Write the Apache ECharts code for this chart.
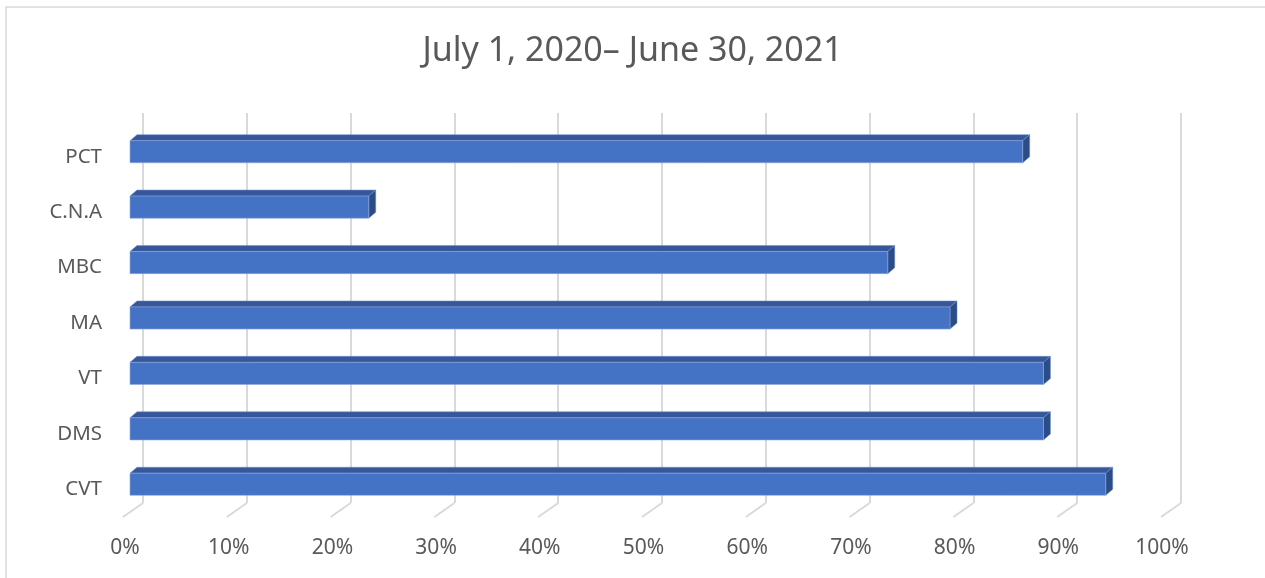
<!DOCTYPE html>
<html><head><meta charset="utf-8">
<script src="https://cdn.jsdelivr.net/npm/echarts@6/dist/echarts.min.js"></script>
<style>html,body{margin:0;padding:0;background:#fff}#c{width:1265px;height:578px}</style>
</head><body><div id="c"></div>
<script>
const titleText = 'July 1, 2020\u2013 June 30, 2021';
const categories = ['PCT', 'C.N.A', 'MBC', 'MA', 'VT', 'DMS', 'CVT'];
const values = [0.86, 0.23, 0.73, 0.79, 0.88, 0.88, 0.94];
const tickValues = [0, 0.1, 0.2, 0.3, 0.4, 0.5, 0.6, 0.7, 0.8, 0.9, 1.0];

const FONT = '"Noto Sans", sans-serif';
const TXT = '#595959';
const GRIDC = '#d9d9d9';

const chart = echarts.init(document.getElementById('c'), null, {renderer: 'canvas'});

function barItem(params, api) {
  const v = api.value(1);
  const idx = api.value(0);
  const p0 = api.coord([0, idx]);
  const p1 = api.coord([v, idx]);
  const band = api.size([0, 1])[1];
  const h = band * 0.4;
  const x0 = p0[0], x1 = p1[0];
  const yt = p0[1] - h / 2, yb = p0[1] + h / 2;
  const dx = 7, dy = 6;
  return {
    type: 'group',
    children: [
      {type: 'polygon', shape: {points: [[x0, yt], [x0 + dx, yt - dy], [x1 + dx, yt - dy], [x1, yt]]},
       style: {fill: '#36589a', stroke: '#6f8fcf', lineWidth: 0.5}},
      {type: 'polygon', shape: {points: [[x1, yt], [x1 + dx, yt - dy], [x1 + dx, yb - dy], [x1, yb]]},
       style: {fill: '#2c4c88', stroke: '#6f8fcf', lineWidth: 0.5}},
      {type: 'rect', shape: {x: x0, y: yt, width: x1 - x0, height: h},
       style: {fill: '#4472c4', stroke: '#8eaadb', lineWidth: 0.6}}
    ]
  };
}

function floorTick(params, api) {
  const v = api.value(0);
  const p = api.coord([v, 0]);
  const bottom = params.coordSys.y + params.coordSys.height;
  return {
    type: 'line',
    shape: {x1: p[0], y1: bottom, x2: p[0] - 20, y2: bottom + 14},
    style: {stroke: GRIDC, lineWidth: 2}
  };
}

chart.setOption({
  animation: false,
  backgroundColor: '#fff',
  title: {
    text: titleText, left: 'center', top: 29,
    textStyle: {fontFamily: FONT, fontSize: 34, fontWeight: 'normal', color: TXT}
  },
  graphic: [{
    type: 'rect', shape: {x: 6, y: 7, width: 1300, height: 600},
    style: {fill: null, stroke: GRIDC, lineWidth: 1.5}, silent: true, z: -10
  }],
  grid: [
    {left: 143, width: 1038, top: 113, height: 390},   // back wall
    {left: 130, width: 1038, top: 124, height: 388},   // bar front plane
    {left: 125, width: 1037, top: 127, height: 390},   // front floor labels
    {left: 130, width: 1038, top: 129, height: 388}    // category labels
  ],
  xAxis: [
    {gridIndex: 0, type: 'value', min: 0, max: 1, interval: 0.1,
     axisLine: {show: false}, axisTick: {show: false}, axisLabel: {show: false},
     splitLine: {show: true, lineStyle: {color: GRIDC, width: 2}}},
    {gridIndex: 1, type: 'value', min: 0, max: 1, interval: 0.1, show: false},
    {gridIndex: 2, type: 'value', min: 0, max: 1, interval: 0.1,
     axisLine: {show: false}, axisTick: {show: false}, splitLine: {show: false},
     axisLabel: {show: true, margin: 21, color: TXT, fontFamily: FONT, fontSize: 21,
       formatter: v => Math.round(v * 100) + '%'}},
    {gridIndex: 3, type: 'value', min: 0, max: 1, show: false}
  ],
  yAxis: [
    {gridIndex: 0, type: 'category', data: categories, inverse: true, show: false},
    {gridIndex: 1, type: 'category', data: categories, inverse: true, show: false},
    {gridIndex: 2, type: 'category', data: categories, inverse: true, show: false},
    {gridIndex: 3, type: 'category', data: categories, inverse: true,
     axisLine: {show: false}, axisTick: {show: false}, splitLine: {show: false},
     axisLabel: {margin: 28, color: TXT, fontFamily: FONT, fontSize: 20.5}}
  ],
  series: [
    {type: 'custom', xAxisIndex: 0, yAxisIndex: 0, renderItem: floorTick,
     data: tickValues.map(v => [v]), encode: {x: 0}, silent: true, z: 1},
    {type: 'custom', xAxisIndex: 1, yAxisIndex: 1, renderItem: barItem,
     data: values.map((v, i) => [i, v]), encode: {x: 1, y: 0}, z: 5}
  ]
});
</script></body></html>
